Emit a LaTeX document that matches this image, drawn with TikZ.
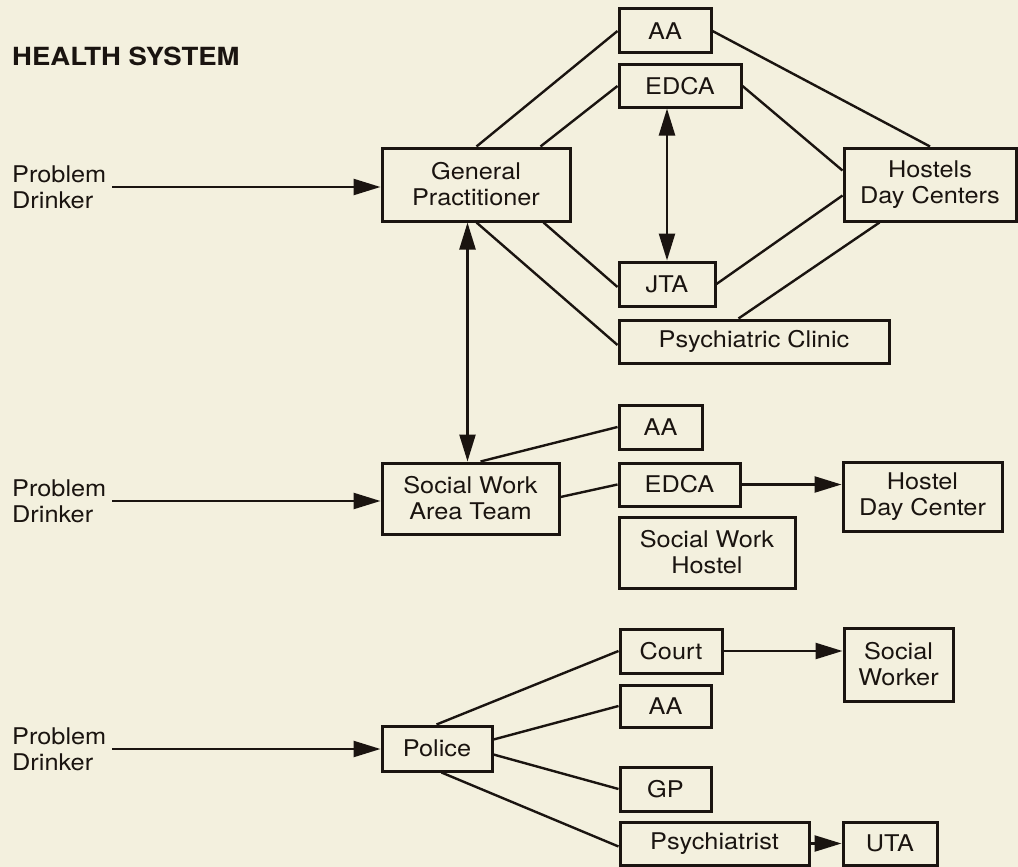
\documentclass[tikz,border=0pt]{standalone}
\usepackage{fontspec}
\setmainfont{TeX Gyre Heros}[FakeStretch=1.1]
\usetikzlibrary{arrows.meta,calc}
\definecolor{paper}{RGB}{243,240,222}
\definecolor{ink}{RGB}{26,20,16}
\begin{document}
\begin{tikzpicture}[x=1pt,y=-1pt,
  box/.style={draw=ink, line width=3pt, inner sep=0pt, align=center, text=ink, font=\fontsize{23}{26}\selectfont},
  lbl/.style={inner sep=0pt, align=left, text=ink, font=\fontsize{23}{26}\selectfont, anchor=west},
  conn/.style={draw=ink, line width=2.4pt},
  arr/.style={conn, -{Triangle[length=27pt,width=16pt]}},
  darr/.style={conn, {Triangle[length=27pt,width=16pt]}-{Triangle[length=27pt,width=16pt]}}]
\fill[paper] (0,0) rectangle (1018,867);
\useasboundingbox (0,0) rectangle (1018,867);

% title
\node[anchor=base west, inner sep=0pt, text=ink, font=\bfseries\fontsize{25}{30}\selectfont] (title) at (12,66) {HEALTH SYSTEM};

% health system
\node[lbl] (pd1) at (12,187) {Problem\\Drinker};
\node[box, minimum width=188pt, minimum height=73pt] (gp) at (476,184.5) {General\\Practitioner};
\node[box, minimum width=92pt, minimum height=44pt] (aa1) at (665,31) {AA};
\node[box, minimum width=122pt, minimum height=42pt] (edca1) at (680,86) {EDCA};
\node[box, minimum width=172pt, minimum height=73pt] (hostels) at (930,184.5) {Hostels\\Day Centers};
\node[box, minimum width=96pt, minimum height=44pt] (jta) at (667,284) {JTA};
\node[box, minimum width=270pt, minimum height=43pt] (psych) at (754,341.5) {Psychiatric Clinic};

% social work
\node[lbl] (pd2) at (12,501) {Problem\\Drinker};
\node[box, minimum width=177pt, minimum height=71pt] (swat) at (470.5,498.5) {Social Work\\Area Team};
\node[box, minimum width=83pt, minimum height=44pt] (aa2) at (660.5,427) {AA};
\node[box, minimum width=121pt, minimum height=43pt] (edca2) at (679.5,484.5) {EDCA};
\node[box, minimum width=176pt, minimum height=71pt] (swh) at (707,552.5) {Social Work\\Hostel};
\node[box, minimum width=159pt, minimum height=69pt] (hdc) at (922.5,496.5) {Hostel\\Day Center};

% police
\node[lbl] (pd3) at (12,749) {Problem\\Drinker};
\node[box, minimum width=110pt, minimum height=45pt] (police) at (437,748.5) {Police};
\node[box, minimum width=102pt, minimum height=44pt] (court) at (671,651) {Court};
\node[box, minimum width=109pt, minimum height=73pt] (sw) at (898.5,664.5) {Social\\Worker};
\node[box, minimum width=91pt, minimum height=42pt] (aa3) at (665.5,706) {AA};
\node[box, minimum width=91pt, minimum height=44pt] (gp3) at (665.5,789) {GP};
\node[box, minimum width=189pt, minimum height=43pt] (psy3) at (714.5,843.5) {Psychiatrist};
\node[box, minimum width=94pt, minimum height=43pt] (uta) at (890,843.5) {UTA};

% incoming arrows
\draw[arr] ($(pd1.east)+(6,0)$) -- (pd1.east -| gp.west);
\draw[arr] ($(pd2.east)+(6,0)$) -- (pd2.east -| swat.west);
\draw[arr] ($(pd3.east)+(6,0)$) -- (pd3.east -| police.west);

% health system connectors
\draw[conn] ($(gp.north west)+(96,0)$) -- (aa1.west);
\draw[conn] ($(gp.north west)+(160,0)$) -- (edca1.west);
\draw[conn] (aa1.east) -- (hostels.north);
\draw[conn] (edca1.east) -- ($(hostels.north west)+(0,24)$);
\draw[conn] ($(gp.south west)+(163,0)$) -- ($(jta.west)+(0,3)$);
\draw[conn] ($(gp.south west)+(96,0)$) -- ($(psych.west)+(0,3.5)$);
\draw[conn] (jta.east) -- ($(hostels.north west)+(0,49)$);
\draw[conn] ($(psych.north west)+(121,0)$) -- ($(hostels.south west)+(37,0)$);
\draw[darr] (jta.north) -- (jta.north |- edca1.south);
\coordinate (g1) at ($(gp.south west)+(87,0)$);
\draw[darr] (g1) -- (g1 |- swat.north);

% social work connectors
\draw[conn] ($(swat.north west)+(100,0)$) -- (aa2.west);
\draw[conn] ($(swat.east)+(0,-1.5)$) -- (edca2.west);
\draw[arr] (edca2.east) -- (edca2.east -| hdc.west);

% police connectors
\draw[conn] ($(police.north west)+(56,0)$) -- (court.west);
\draw[conn] ($(police.north east)+(0,15)$) -- (aa3.west);
\draw[conn] ($(police.north east)+(0,30)$) -- (gp3.west);
\draw[conn] ($(police.south west)+(61,0)$) -- ($(psy3.west)+(0,3)$);
\draw[arr] (court.east) -- (court.east -| sw.west);
\draw[arr] (psy3.east) -- (psy3.east -| uta.west);
\end{tikzpicture}
\end{document}
